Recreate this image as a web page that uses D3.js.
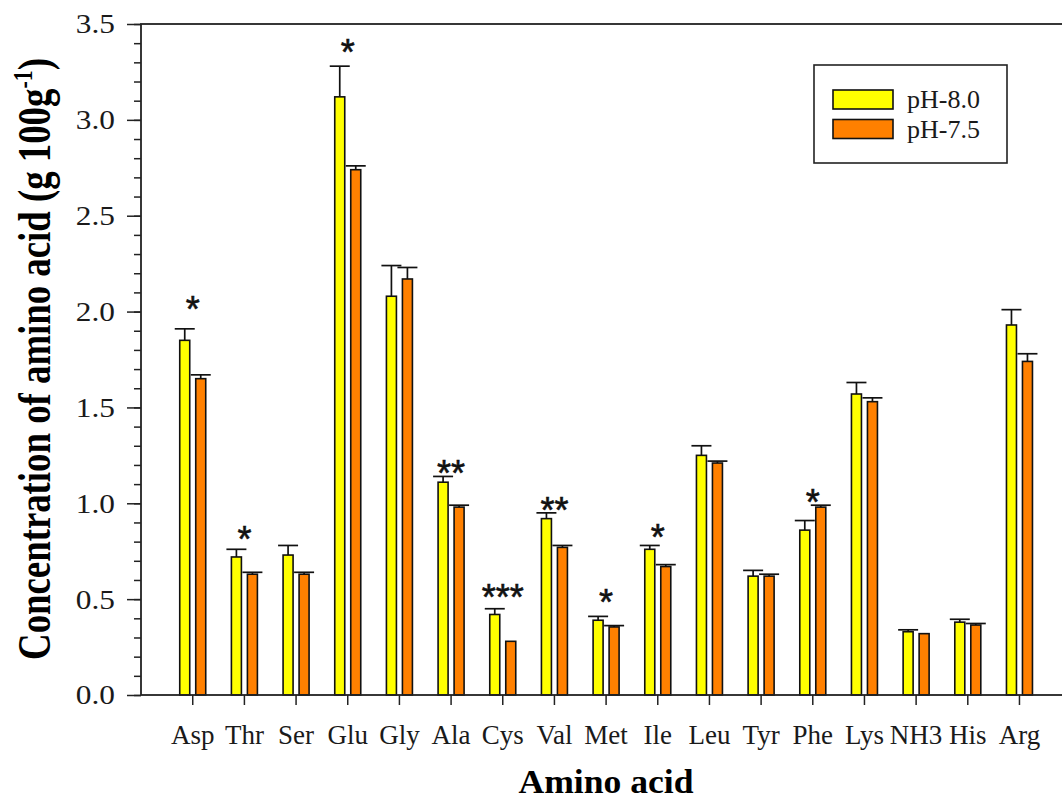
<!DOCTYPE html>
<html>
<head>
<meta charset="utf-8">
<script src="https://cdn.jsdelivr.net/npm/d3@7"></script>
<style>
  html, body { margin: 0; padding: 0; background: #fff; }
  svg { display: block; }
</style>
</head>
<body>
<div id="container"></div>
<script>
const width = 1062, height = 811;

// --- Data ---
const categories = ["Asp", "Thr", "Ser", "Glu", "Gly", "Ala", "Cys", "Val", "Met",
  "Ile", "Leu", "Tyr", "Phe", "Lys", "NH3", "His", "Arg"];
const seriesNames = ["pH-8.0", "pH-7.5"];
const ph80 = [1.85, 0.72, 0.73, 3.12, 2.08, 1.11, 0.42, 0.92, 0.39, 0.76, 1.25, 0.62, 0.86, 1.57, 0.33, 0.38, 1.93];
const ph80Err = [0.06, 0.04, 0.05, 0.16, 0.16, 0.03, 0.03, 0.03, 0.02, 0.02, 0.05, 0.03, 0.05, 0.06, 0.01, 0.015, 0.08];
const ph75 = [1.65, 0.63, 0.63, 2.74, 2.17, 0.98, 0.28, 0.77, 0.355, 0.67, 1.21, 0.62, 0.98, 1.53, 0.32, 0.365, 1.74];
const ph75Err = [0.02, 0.01, 0.01, 0.02, 0.06, 0.01, 0, 0.01, 0.007, 0.01, 0.01, 0.01, 0.01, 0.02, 0, 0.008, 0.04];
const stars = ["*", "*", "", "*", "", "**", "***", "**", "*", "*", "", "", "*", "", "", "", ""];
const starLevel = [2.05, 0.85, 0, 3.39, 0, 1.195, 0.548, 1.003, 0.522, 0.861, 0, 0, 1.043, 0, 0, 0, 0];
const yTicks = [0, 0.5, 1.0, 1.5, 2.0, 2.5, 3.0, 3.5];
const colors = ["#ffff00", "#ff8000"];

const values = [ph80, ph75];
const errors = [ph80Err, ph75Err];

// --- Layout ---
const plot = { left: 141, top: 24, bottom: 695, right: 1075 };
const serif = "'Liberation Serif', 'Times New Roman', serif";
const ink = "#1a1a1a";

const svg = d3.select("#container").append("svg")
  .attr("width", width).attr("height", height);

const y = d3.scaleLinear().domain([0, 3.5]).range([plot.bottom, plot.top]);
const x0 = d3.scaleBand().domain(categories).range([166.9, 1045.3]).padding(0);
const x1 = d3.scaleBand().domain(seriesNames).range([-13, 13]).paddingInner(0.375);

// --- Bars ---
const rows = categories.flatMap((c, i) => seriesNames.map((s, k) => ({
  cat: c, series: s, k, v: values[k][i], e: errors[k][i]
})));

const cx = (d) => x0(d.cat) + x0.bandwidth() / 2 + x1(d.series);

svg.append("g").selectAll("rect").data(rows).join("rect")
  .attr("x", (d) => cx(d))
  .attr("y", (d) => y(d.v))
  .attr("width", x1.bandwidth())
  .attr("height", (d) => y(0) - y(d.v))
  .attr("fill", (d) => colors[d.k])
  .attr("stroke", "#111")
  .attr("stroke-width", 1.6);

// --- Error bars (upper only) ---
const eg = svg.append("g").attr("stroke", "#111").attr("stroke-width", 1.7);
rows.filter((d) => d.e > 0).forEach((d) => {
  const mx = cx(d) + x1.bandwidth() / 2;
  eg.append("line").attr("x1", mx).attr("x2", mx)
    .attr("y1", y(d.v)).attr("y2", y(d.v + d.e));
  eg.append("line").attr("x1", mx - 10).attr("x2", mx + 10)
    .attr("y1", y(d.v + d.e)).attr("y2", y(d.v + d.e));
});

// --- Significance stars ---
svg.append("g").selectAll("text")
  .data(categories.map((c, i) => ({ c, s: stars[i], lv: starLevel[i] })).filter((d) => d.s))
  .join("text")
  .attr("x", (d) => x0(d.c) + x0.bandwidth() / 2)
  .attr("y", (d) => y(d.lv) + 20)
  .attr("text-anchor", "middle")
  .attr("fill", "#111")
  .attr("stroke", "#111").attr("stroke-width", 0.6)
  .style("font-family", "'Liberation Sans', Arial, sans-serif")
  .style("font-size", "36px")
  .text((d) => d.s);

// --- Frame ---
svg.append("rect")
  .attr("x", plot.left).attr("y", plot.top)
  .attr("width", plot.right - plot.left).attr("height", plot.bottom - plot.top)
  .attr("fill", "none").attr("stroke", "#222").attr("stroke-width", 1.8);

// --- Y axis ---
const yMinor = svg.append("g").attr("transform", `translate(${plot.left},0)`)
  .call(d3.axisLeft(y).tickValues(d3.range(0, 36).map((v) => v / 10)).tickSize(7).tickFormat(""));
yMinor.select(".domain").remove();
yMinor.selectAll("line").attr("stroke", "#222").attr("stroke-width", 1.5);

const yAxis = svg.append("g").attr("transform", `translate(${plot.left},0)`)
  .call(d3.axisLeft(y).tickValues(yTicks).tickSize(14).tickFormat(d3.format(".1f")));
yAxis.select(".domain").remove();
yAxis.selectAll("line").attr("stroke", "#222").attr("stroke-width", 1.5);
yAxis.selectAll("text").attr("fill", ink)
  .attr("x", 0)
  .attr("transform", "translate(-26,0) scale(1.12,1)")
  .style("font-family", serif).style("font-size", "28px");

// --- X axis ---
const xAxis = svg.append("g").attr("transform", `translate(0,${plot.bottom})`)
  .call(d3.axisBottom(x0).tickSize(10).tickPadding(20).tickSizeOuter(0));
xAxis.select(".domain").remove();
xAxis.selectAll("line").attr("stroke", "#222").attr("stroke-width", 1.5);
xAxis.selectAll("text").attr("fill", ink)
  .style("font-family", serif).style("font-size", "27px");

// --- Axis titles ---
svg.append("text")
  .attr("x", 606).attr("y", 793)
  .attr("text-anchor", "middle")
  .attr("fill", "#000")
  .attr("textLength", 175).attr("lengthAdjust", "spacingAndGlyphs")
  .style("font-family", serif).style("font-size", "34px").style("font-weight", "bold")
  .text("Amino acid");

const yt = svg.append("text")
  .attr("text-anchor", "middle")
  .attr("fill", "#000")
  .style("font-family", serif).style("font-size", "47px").style("font-weight", "bold");
yt.append("tspan").text("Concentration of amino acid (g 100g");
yt.append("tspan").attr("dy", -18).style("font-size", "28px").text("-1");
yt.append("tspan").attr("dy", 18).text(")");
const ytLen = yt.node().getComputedTextLength();
yt.attr("transform", `translate(50,359) rotate(-90) scale(${602 / ytLen},1)`);

// --- Legend ---
const lg = svg.append("g");
lg.append("rect")
  .attr("x", 814).attr("y", 65).attr("width", 193).attr("height", 98)
  .attr("fill", "#fff").attr("stroke", "#222").attr("stroke-width", 1.6);
seriesNames.forEach((s, k) => {
  lg.append("rect")
    .attr("x", 833).attr("y", 90 + k * 29.5).attr("width", 60).attr("height", 19)
    .attr("fill", colors[k]).attr("stroke", "#111").attr("stroke-width", 1.6);
  lg.append("text")
    .attr("x", 907).attr("y", 108 + k * 29.5)
    .attr("fill", ink)
    .style("font-family", serif).style("font-size", "26px")
    .text(s);
});
</script>
</body>
</html>
